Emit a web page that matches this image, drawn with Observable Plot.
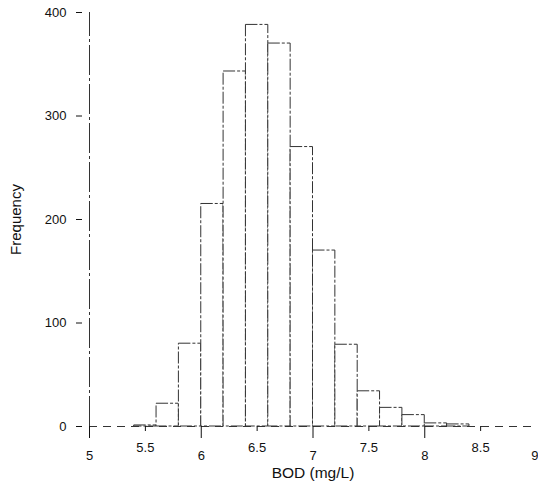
<!DOCTYPE html>
<html>
<head>
<meta charset="utf-8">
<script src="https://cdn.jsdelivr.net/npm/d3@7"></script>
<script src="https://cdn.jsdelivr.net/npm/@observablehq/plot@0.6"></script>
<style>
  html, body { margin: 0; padding: 0; background: #fff; }
  #chart { width: 538px; height: 484px; }
</style>
</head>
<body>
<div id="chart"></div>
<script>
const binWidth = 0.2;
const binStarts = [5.4, 5.6, 5.8, 6.0, 6.2, 6.4, 6.6, 6.8, 7.0, 7.2, 7.4, 7.6, 7.8, 8.0, 8.2];
const counts    = [1,   22,  80,  215, 343, 388, 370, 270, 170, 79,  34,  18,  11,  3,   2];
const majorTicks = [5, 6, 7, 8];
const lastTick = [9];
const minorTicks = [5.5, 6.5, 7.5, 8.5];
const yTicks = [0, 100, 200, 300, 400];

const bins = binStarts.map((x, i) => ({x1: x, x2: +(x + binWidth).toFixed(2), n: counts[i]}));
const fmt = d => String(d);

const chart = Plot.plot({
  width: 538,
  height: 484,
  marginLeft: 89,
  marginRight: 2,
  marginTop: 12,
  marginBottom: 58,
  style: {fontFamily: "'Liberation Sans', Arial, sans-serif", fontSize: "13px", color: "#111", background: "#fff"},
  x: {domain: [5, 9]},
  y: {domain: [0, 400]},
  marks: [
    Plot.rectY(bins, {x1: "x1", x2: "x2", y: "n", fill: "white", stroke: "#333", strokeWidth: 1, strokeDasharray: "12,2,3,2"}),
    Plot.ruleY([0], {x1: 5, x2: 9, stroke: "#333", strokeDasharray: "8,6"}),
    Plot.ruleX([5], {y1: 0, y2: 400, stroke: "#333", strokeDasharray: "30,3,3,3"}),
    Plot.axisY({ticks: yTicks, tickSize: 6, dx: -7, tickPadding: 10, label: null, fontSize: 13, tickFormat: fmt}),
    Plot.axisX({ticks: majorTicks, tickSize: 12, tickPadding: 12, label: null, fontSize: 13, tickFormat: fmt}),
    Plot.axisX({ticks: lastTick, tickSize: 12, tickPadding: 12, label: null, fontSize: 13, tickFormat: fmt, textAnchor: "end", dx: 2}),
    Plot.axisX({ticks: minorTicks, tickSize: 5, tickPadding: 11, label: null, fontSize: 13, tickFormat: fmt}),
    Plot.text(["BOD (mg/L)"], {frameAnchor: "bottom", dy: 51, text: d => d, fontSize: 15.5}),
    Plot.text(["Frequency"], {frameAnchor: "left", dx: -73, rotate: -90, textAnchor: "middle", text: d => d, fontSize: 15})
  ]
});
document.getElementById("chart").appendChild(chart);
</script>
</body>
</html>
